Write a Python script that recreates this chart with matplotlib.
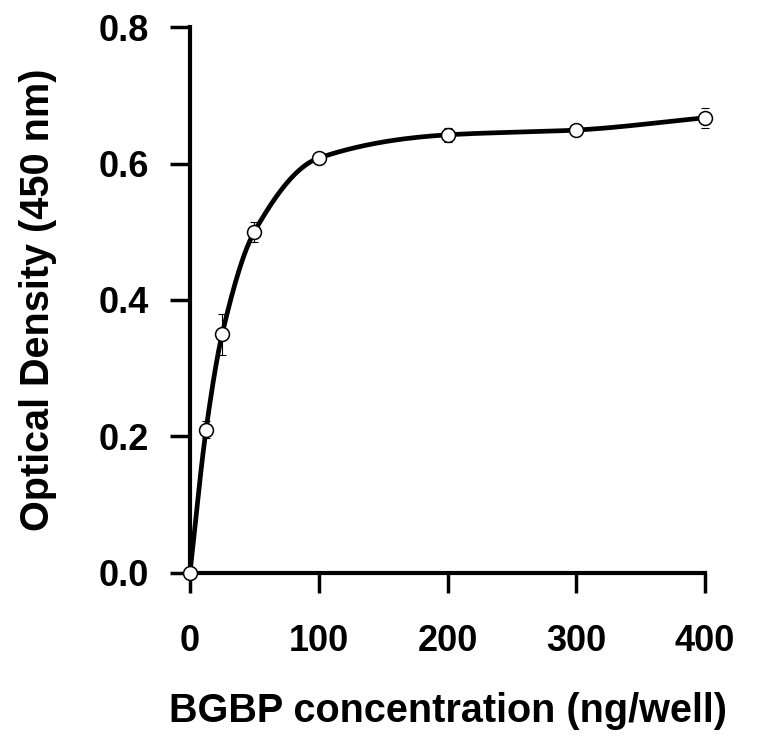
import numpy as np
import matplotlib
matplotlib.use("AGG")
import matplotlib.pyplot as plt

# BGBP binding ELISA readout
conc = [0, 12.5, 25, 50, 100, 200, 300, 400]
od = [0.0, 0.21, 0.35, 0.50, 0.608, 0.642, 0.649, 0.667]
od_err = [0.0, 0.012, 0.03, 0.015, 0.008, 0.01, 0.008, 0.015]


def smooth_curve(x, y, n=400):
    # monotone cubic hermite (Fritsch-Carlson) for the fitted-looking line
    x = np.asarray(x, float)
    y = np.asarray(y, float)
    h = np.diff(x)
    d = np.diff(y) / h
    m = np.zeros_like(y)
    m[0], m[-1] = d[0], d[-1]
    for i in range(1, len(x) - 1):
        if d[i - 1] * d[i] > 0:
            w1 = 2 * h[i] + h[i - 1]
            w2 = h[i] + 2 * h[i - 1]
            m[i] = (w1 + w2) / (w1 / d[i - 1] + w2 / d[i])
    xs = np.linspace(x[0], x[-1], n)
    idx = np.clip(np.searchsorted(x, xs) - 1, 0, len(x) - 2)
    t = (xs - x[idx]) / h[idx]
    h00 = 2 * t**3 - 3 * t**2 + 1
    h10 = t**3 - 2 * t**2 + t
    h01 = -2 * t**3 + 3 * t**2
    h11 = t**3 - t**2
    ys = h00 * y[idx] + h10 * h[idx] * m[idx] + h01 * y[idx + 1] + h11 * h[idx] * m[idx + 1]
    return xs, ys


plt.rcParams['font.family'] = ['Liberation Sans', 'DejaVu Sans']
plt.rcParams['font.weight'] = 'bold'

fig = plt.figure(figsize=(7.59, 7.4), dpi=100)
ax = fig.add_axes([0.2503, 0.2257, 0.6786, 0.7378])

xs, ys = smooth_curve(conc, od)
ax.plot(xs, ys, color="black", linewidth=3.4, zorder=2)
ax.errorbar(conc, od, yerr=od_err, fmt="none", ecolor="black", elinewidth=0.8,
            capsize=3, capthick=0.8, zorder=3)
ax.plot(conc, od, linestyle="none", marker="o", markersize=10, markerfacecolor="white",
        markeredgecolor="black", markeredgewidth=1.1, zorder=4)

ax.set_xlim(0, 400)
ax.set_ylim(0, 0.8)
ax.set_xticks([0, 100, 200, 300, 400])
ax.set_yticks([0.0, 0.2, 0.4, 0.6, 0.8])
ax.set_yticklabels(["0.0", "0.2", "0.4", "0.6", "0.8"])

for side in ["top", "right"]:
    ax.spines[side].set_visible(False)
for side in ["left", "bottom"]:
    ax.spines[side].set_linewidth(3)
ax.tick_params(axis="both", direction="out", length=14.5, width=2.5, labelsize=26)
ax.tick_params(axis="y", pad=15)
ax.tick_params(axis="x", pad=22)

ax.set_xlabel("BGBP concentration (ng/well)", fontsize=28.5, fontweight="bold", labelpad=24)
ax.set_ylabel("Optical Density (450 nm)", fontsize=28.5, fontweight="bold", labelpad=30)

for sp in ax.spines.values():
    sp.set_clip_on(False)
for line in ax.lines:
    line.set_clip_on(False)

fig.savefig("out.png", dpi=100)
